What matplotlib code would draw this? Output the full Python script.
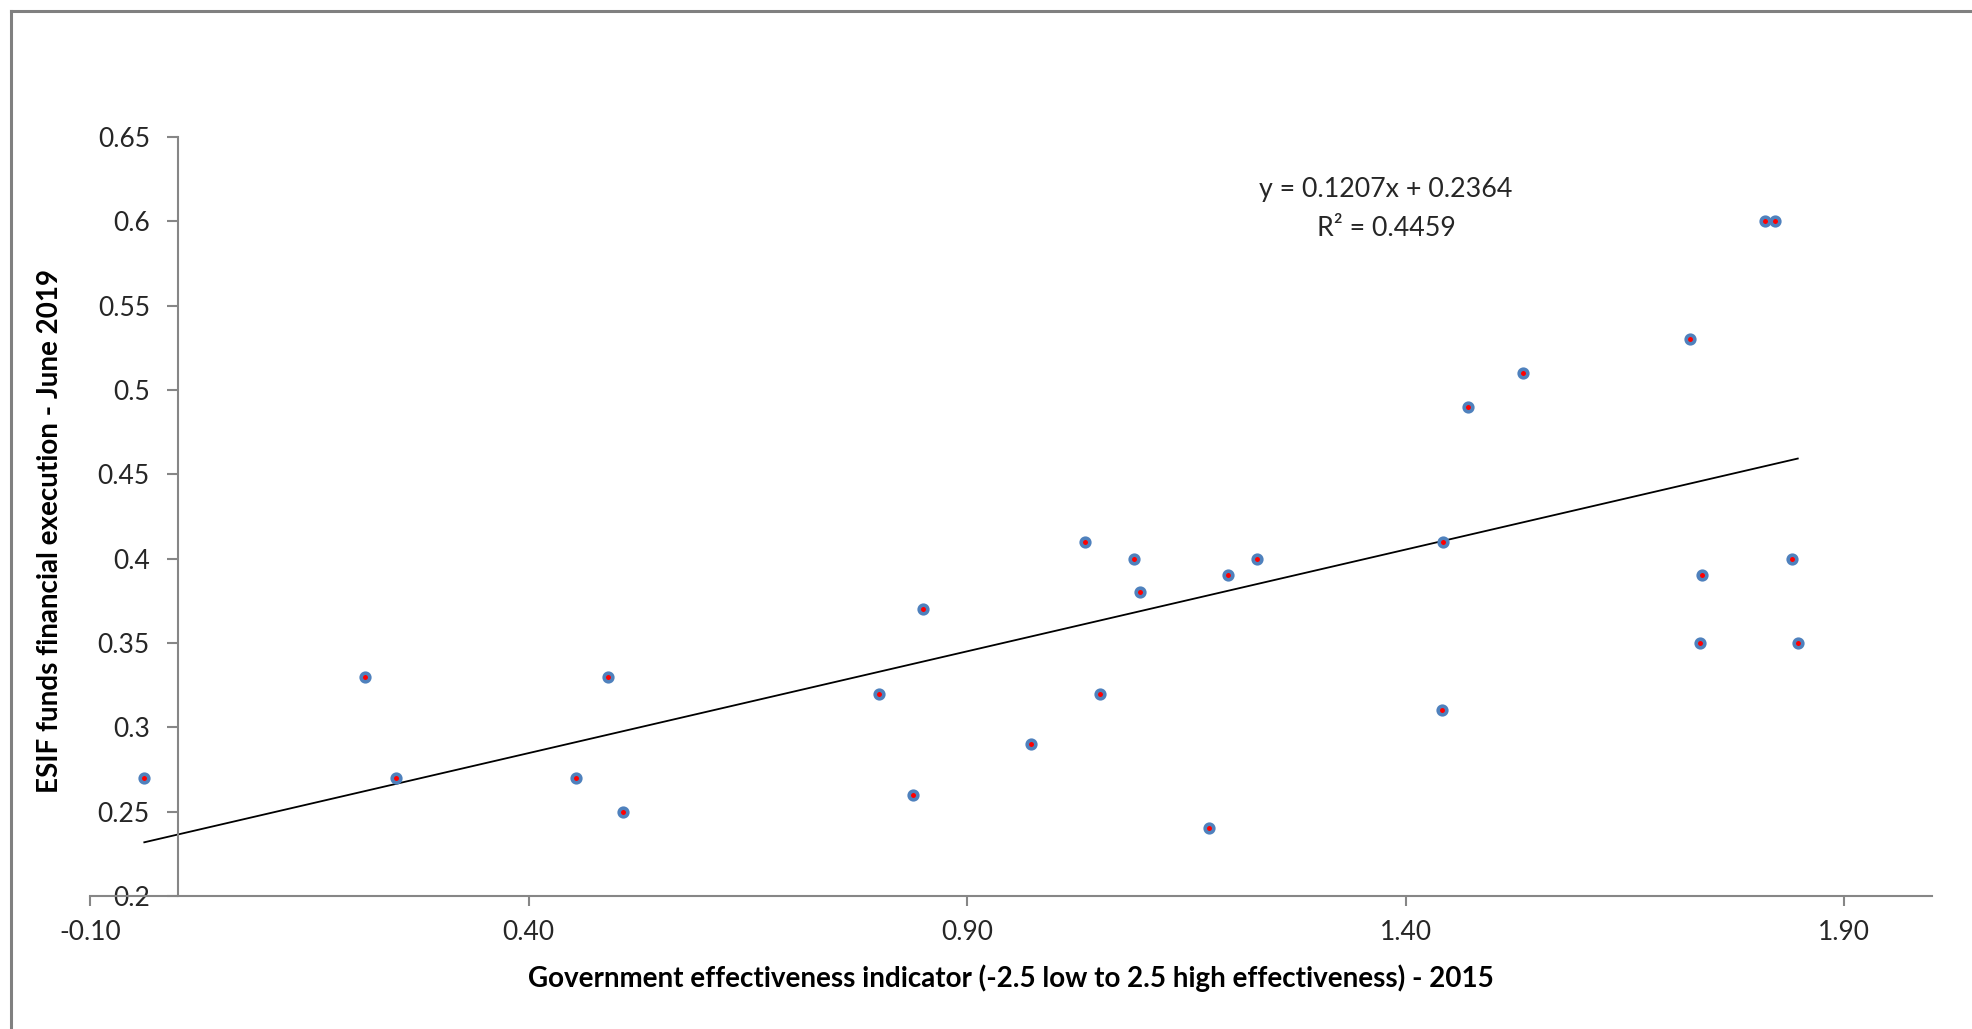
import matplotlib
matplotlib.use("Agg")
import matplotlib.pyplot as plt
from matplotlib.lines import Line2D
import numpy as np

# government effectiveness 2015 vs ESIF execution June 2019
gov_eff = [-0.038, 0.214, 0.249, 0.454, 0.491, 0.508, 0.800, 0.838, 0.850, 0.973,
           1.034, 1.051, 1.090, 1.097, 1.176, 1.198, 1.231, 1.441, 1.442, 1.471,
           1.534, 1.724, 1.736, 1.738, 1.810, 1.821, 1.840, 1.847]
esif_exec = [0.27, 0.33, 0.27, 0.27, 0.33, 0.25, 0.32, 0.26, 0.37, 0.29,
             0.41, 0.32, 0.40, 0.38, 0.24, 0.39, 0.40, 0.31, 0.41, 0.49,
             0.51, 0.53, 0.35, 0.39, 0.60, 0.60, 0.40, 0.35]

slope = 0.1207
intercept = 0.2364
r2 = 0.4459

x_ticks = [-0.10, 0.40, 0.90, 1.40, 1.90]
y_ticks = [0.2, 0.25, 0.3, 0.35, 0.4, 0.45, 0.5, 0.55, 0.6, 0.65]

plt.rcParams["font.family"] = ["Lato", "DejaVu Sans"]
axis_grey = "#868686"
text_col = "#262626"

fig = plt.figure(figsize=(19.72, 10.29), dpi=100)
ax = fig.add_axes([0.0456, 0.1293, 0.9341, 0.7376])

# trendline over the data range
xs = np.array([min(gov_eff), max(gov_eff)])
ax.plot(xs, slope * xs + intercept, color="black", lw=1.3, zorder=2)

ax.plot(gov_eff, esif_exec, "o", ms=6.2, mfc="red", mec="#4F81BD", mew=2.6,
        ls="none", zorder=3)

ax.set_xlim(-0.1, 2.0)
ax.set_ylim(0.2, 0.65)
ax.set_xticks(x_ticks)
ax.set_xticklabels(["%.2f" % v for v in x_ticks])
ax.set_yticks(y_ticks)
ax.set_yticklabels(["%g" % v for v in y_ticks])

ax.spines["top"].set_visible(False)
ax.spines["right"].set_visible(False)
ax.spines["left"].set_position(("data", 0))
for s in ["left", "bottom"]:
    ax.spines[s].set_color(axis_grey)
    ax.spines[s].set_linewidth(1.5)

ax.tick_params(axis="y", direction="out", length=8, width=1.5, color=axis_grey,
               labelsize=19, labelcolor=text_col, pad=12)
ax.tick_params(axis="x", direction="out", length=7, width=1.5, color=axis_grey,
               labelsize=19, labelcolor=text_col, pad=10)

ax.set_xlabel("Government effectiveness indicator (-2.5 low to 2.5 high effectiveness) - 2015",
              fontsize=20, fontweight="bold", color="black")
ax.xaxis.set_label_coords(0.5, -0.09)
ax.set_ylabel("ESIF funds financial execution - June 2019",
              fontsize=20, fontweight="bold", color="black")
ax.yaxis.set_label_coords(-0.0215, 0.481)
ax.yaxis.label.set_va("center")

ax.text(0.7036, 0.931, "y = %.4fx + %.4f" % (slope, intercept), transform=ax.transAxes,
        ha="center", va="center", fontsize=19.3, color=text_col)
ax.text(0.7036, 0.880, "R² = %.4f" % r2, transform=ax.transAxes,
        ha="center", va="center", fontsize=19.3, color=text_col)

# chart area border (top and left edges visible)
fig.add_artist(Line2D([0.0056, 0.0056], [0.0, 0.9893], transform=fig.transFigure,
                      color="#808080", lw=2.2))
fig.add_artist(Line2D([0.0056, 1.0], [0.9893, 0.9893], transform=fig.transFigure,
                      color="#808080", lw=2.2))

fig.savefig("out.png", dpi=100)
